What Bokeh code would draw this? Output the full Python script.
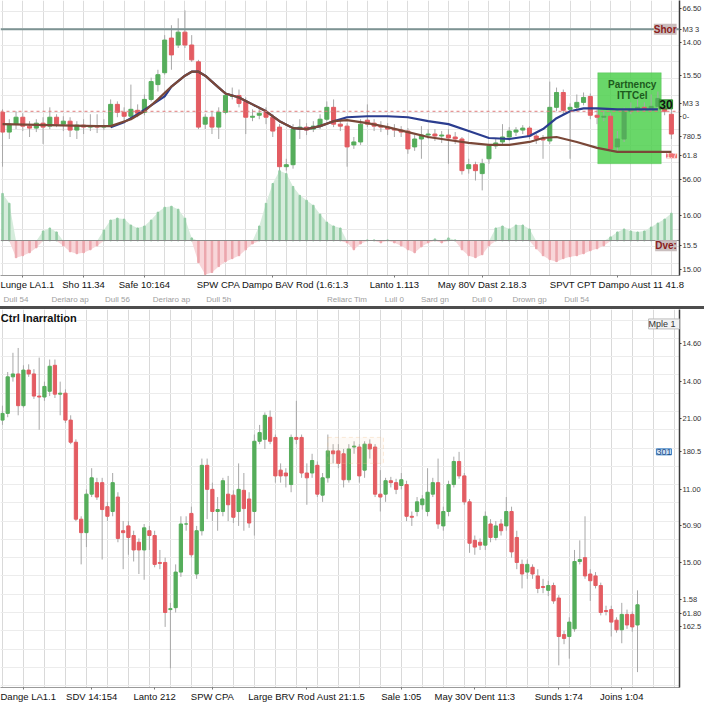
from bokeh.plotting import figure
from bokeh.models import (Range1d, LinearAxis, FixedTicker, SingleIntervalTicker, Label,
                          BoxAnnotation, ColumnDataSource, Div, Span)
from bokeh.layouts import column
from bokeh.embed import file_html
from bokeh.resources import INLINE

# ---------------- upper panel data ----------------
top_open = [187,167,175,182,173,171,176,173,182,175,
            178,169,174,172,173,172,173,195,187,183,
            189,187,200,215,227,262,255,268,255,238,
            175,182,172,187,203,204,198,182,184,187,
            182,172,132,134,170,172,170,173,180,192,
            175,173,154,157,179,176,173,172,170,169,
            168,152,160,164,165,163,164,162,160,130,
            134,125,140,153,157,162,167,169,171,163,
            160,158,192,207,190,192,197,203,184,182,
            183,152,160,188,190,192,191,193,192,185]
top_close = [167,175,182,173,171,176,172,182,175,178,
             169,174,172,173,172,173,195,187,183,190,
             186,200,218,225,260,245,268,255,240,172,
             182,172,187,204,204,196,182,183,186,182,
             168,132,134,170,172,169,173,180,192,175,
             173,152,157,175,175,173,172,170,169,167,
             150,160,164,165,163,164,161,160,128,134,
             128,135,153,156,162,168,169,171,163,160,
             159,192,207,189,192,197,202,184,182,183,
             150,160,188,190,192,191,193,201,188,165]
top_high = [190,180,188,186,178,180,182,192,185,183,
            182,178,180,185,185,180,200,198,192,215,
            195,205,222,230,265,275,282,290,265,240,
            185,188,192,208,212,210,202,190,192,192,
            185,175,140,175,180,176,178,185,198,200,
            180,176,162,180,195,180,178,176,175,173,
            171,164,173,170,170,168,170,167,162,140,
            137,140,155,160,175,172,172,174,173,165,
            164,218,212,210,196,205,207,206,190,188,
            186,168,192,197,200,197,205,208,196,190]
top_low = [132,160,170,168,162,167,155,170,172,168,
           162,160,165,168,166,169,172,182,178,180,
           182,184,198,208,225,230,252,252,238,170,
           170,165,160,185,200,192,165,178,180,175,
           162,128,128,130,160,164,167,170,178,172,
           168,132,150,154,172,168,167,164,162,162,
           145,148,140,160,158,156,135,155,124,125,
           118,108,135,150,154,158,163,165,160,155,
           140,155,188,185,140,188,194,180,175,178,
           147,148,157,185,187,188,188,190,184,160]
oscillator = [4.8,3.8,-1.7,-1.5,-1.2,-0.7,1.0,1.3,0.9,-0.5,
              -1.1,-1.3,-1.2,-0.9,-0.5,1.1,2.1,2.3,2.2,1.6,
              1.3,1.5,2.1,2.9,3.4,3.5,3.2,2.3,0.3,-2.2,
              -3.4,-3.2,-2.6,-2.1,-1.8,-1.5,-0.9,-0.3,1.5,3.8,
              5.8,7.1,6.8,5.5,4.6,4.1,3.6,2.7,1.9,1.5,
              1.3,-0.2,-0.9,-0.3,0.1,0.1,-0.2,0.1,-0.2,-0.5,
              -0.9,-1.2,-0.6,-0.2,0.2,-0.2,0.3,0.1,-0.9,-1.5,
              -1.7,-1.4,-0.5,1.3,1.5,1.2,1.6,1.6,1.2,-0.8,
              -1.5,-1.9,-2.1,-1.8,-1.6,-1.5,-1.3,-1.0,-0.8,-0.5,
              0.4,0.9,1.2,1.0,0.9,1.0,1.4,1.8,2.2,2.8]
ma_slow_idx = [0,7,14,16,19,21,23,25,27,28,29,30,32,33,35,37,39,41,43,45,
               47,49,51,54,57,60,63,66,69,72,75,78,80,82,85,88,91,95,99]
ma_slow = [175,174,173,173,180,188,200,213,224,228,228,224,212,206,202,195,188,178,171,170,
           173,178,179,176,172,167,162,159,156,154,154,157,161,162,157,151,147,147,147]
ma_fast_idx = [16,18,20,22,24,25,27,28,29,30,32,33,35,37,39,41,43,45,47,49,
               51,54,57,60,63,66,69,72,75,78,80,82,84,86,88,91,95,97]
ma_fast = [172,177,185,194,203,213,224,228,228,224,212,206,202,195,188,178,171,170,173,178,
           182,183,183,182,178,175,168,161,160,163,170,181,188,191,191,190,190,190]
resistance_level = 271
pivot_level = 188

top_tick_pos = [3, 12, 21, 40, 58, 71, 91]
top_tick_labels = ["Lunge LA1.1", "Sho 11.34", "Safe 10:164", "SPW CPA Dampo BAV Rod (1.6:1.3",
                   "Lanto 1.113", "May 80V Dast 2.18.3", "SPVT CPT Dampo Aust 11 41.8"]
top_sub_pos = [2, 10, 17, 25, 32, 51, 58, 64, 71, 78, 85]
top_sub_labels = ["Dull 54", "Deriaro ap", "Dull 56", "Deriaro ap", "Dull 5h", "Reliarc Tim",
                  "Lull 0", "Sard gn", "Dull 0", "Drown gp", "Dull 54"]
top_y_ticks = [292, 271, 258, 224, 196, 183, 163, 143, 119, 83, 52, 28]
top_y_labels = ["66.50", "M3 3", "14.00", "15.50", "M3 3", "0-", "780.5", "61.8",
                "56.00", "16.00", "15.5", "15.00"]

# ---------------- lower panel data ----------------
bot_open = [295,302,340,343,310,347,343,320,319,325,
            352,322,323,295,272,192,178,218,230,230,
            205,200,215,180,185,175,168,160,180,175,
            147,147,98,100,137,187,198,135,180,248,
            223,200,200,218,217,200,222,213,200,273,
            275,298,277,243,240,228,277,277,240,240,
            248,217,235,263,263,260,233,267,267,243,
            270,267,218,218,232,230,227,228,195,200,
            207,200,218,230,185,200,228,252,237,210,
            170,168,165,187,173,187,185,200,173,145,
            137,142,133,122,118,123,110,72,70,78,
            148,152,135,133,123,97,98,87,77,93,
            93,82]
bot_close = [302,340,343,310,347,343,320,319,330,351,
             322,323,295,272,192,178,218,235,215,202,
             195,230,172,178,173,160,160,183,175,145,
             146,95,99,137,187,187,155,180,248,223,
             200,202,232,207,194,223,203,188,273,282,
             300,273,237,237,237,277,275,240,235,253,
             218,235,263,260,250,233,265,268,237,270,
             265,218,215,232,230,223,233,195,194,210,
             213,220,230,187,200,228,252,237,210,167,
             163,165,195,173,185,180,200,158,147,135,
             145,135,120,121,123,107,70,68,85,148,
             150,133,128,123,95,96,85,77,93,82,
             80,103]
bot_high = [310,345,365,370,352,353,348,360,335,358,
            358,335,327,300,275,195,223,245,235,235,
            210,240,220,190,190,180,172,187,185,180,
            160,152,105,145,195,195,205,185,255,255,
            230,215,235,237,222,250,240,220,280,290,
            303,305,280,250,245,280,315,280,250,260,
            252,240,280,270,270,265,270,273,270,273,
            275,270,243,235,236,234,240,232,200,215,
            217,245,235,255,205,232,257,262,240,213,
            175,172,200,192,190,192,215,205,180,150,
            150,145,140,130,128,126,113,76,90,160,
            170,195,140,137,126,102,102,90,105,98,
            96,118]
bot_low = [290,298,335,300,308,340,317,285,315,320,
           318,300,292,270,190,145,163,215,212,150,
           190,195,168,140,155,148,135,129,160,142,
           140,80,37,95,132,180,152,130,175,192,
           190,180,195,190,188,185,180,183,175,270,
           265,270,230,230,225,220,270,235,207,235,
           215,210,230,250,245,225,230,260,230,235,
           255,215,200,210,225,218,223,190,185,195,
           202,195,215,182,180,195,225,234,207,157,
           155,160,160,168,170,175,180,152,140,120,
           130,130,115,115,112,104,40,62,47,75,
           145,130,107,120,92,92,70,74,63,78,
           75,33]
bot_tick_pos = [4, 17, 29, 40, 58, 76, 90, 106, 118]
bot_tick_labels = ["Dange LA1.1", "SDV 14:154", "Lanto 212", "SPW CPA",
                   "Large BRV Rod Aust 21:1.5", "Sale 1:05", "May 30V Dent 11:3",
                   "Sunds 1:74", "Joins 1:04"]
bot_y_ticks = [375, 335, 297, 262, 223, 185, 147, 108, 94, 80]
bot_y_labels = ["14.60", "14.00", "21.00", "180.5", "11.00", "50.90", "15.00", "1.58",
                "61.80", "162.5"]

GREEN = "#55ad5b"
RED = "#e35c62"
WICK = "#a8a8a8"
FONT = "Liberation Sans"
W = 704
RIGHT = 24


def draw_candles(p, o, c, h, l, width):
    idx = list(range(len(o)))
    cols = [GREEN if ci >= oi else RED for oi, ci in zip(o, c)]
    src = ColumnDataSource(dict(x=idx, o=o, c=c, h=h, l=l, col=cols))
    p.segment("x", "h", "x", "l", source=src, line_color=WICK, line_width=1)
    p.vbar(x="x", width=width, top="o", bottom="c", source=src,
           fill_color="col", line_color="col", line_width=1)


def tag(p, x, y, text, bg, fg="white", size="8px", bold=False, border=None, align="left"):
    lab = Label(x=x, y=y, text=text, text_font=FONT, text_font_size=size,
                text_color=fg, text_baseline="middle", text_align=align,
                background_fill_color=bg, border_line_color=border,
                text_font_style="bold" if bold else "normal")
    p.add_layout(lab)


def style_common(p):
    p.outline_line_color = None
    p.background_fill_color = "white"
    p.border_fill_color = "white"
    p.min_border_left = 0
    p.min_border_top = 0
    p.min_border_bottom = 0
    p.min_border_right = RIGHT


def style_xaxis(ax, size, color):
    ax.axis_line_color = "#9a9a9a"
    ax.major_tick_line_color = "#777777"
    ax.major_tick_in = 0
    ax.major_tick_out = 2
    ax.minor_tick_line_color = None
    ax.major_label_standoff = 1
    ax.major_label_text_font = FONT
    ax.major_label_text_font_size = size
    ax.major_label_text_color = color


def style_yaxis(ax):
    ax.axis_line_color = "#3a3a3a"
    ax.axis_line_width = 1.5
    ax.major_tick_line_color = "#3a3a3a"
    ax.major_tick_in = 0
    ax.major_tick_out = 2
    ax.minor_tick_line_color = None
    ax.major_label_standoff = 1
    ax.major_label_text_font = FONT
    ax.major_label_text_font_size = "7.5px"
    ax.major_label_text_color = "#333333"


# ---------------- upper figure ----------------
top = figure(width=W, height=306, x_range=Range1d(-0.3, 100.2), y_range=Range1d(22, 300),
             y_axis_location="right", output_backend="svg", toolbar_location=None)
style_common(top)
top.extra_y_ranges = {"osc": Range1d(-3.5, 24.3)}

top.xgrid.ticker = SingleIntervalTicker(interval=3)
top.ygrid.ticker = SingleIntervalTicker(interval=17)
top.xgrid.grid_line_color = "#dcdcdc"
top.ygrid.grid_line_color = "#e9e9e9"

xa = top.xaxis[0]
xa.ticker = FixedTicker(ticks=top_tick_pos, minor_ticks=[])
xa.major_label_overrides = dict(zip(top_tick_pos, top_tick_labels))
style_xaxis(xa, "9.5px", "#111111")

xa2 = LinearAxis(ticker=FixedTicker(ticks=top_sub_pos, minor_ticks=[]))
xa2.major_label_overrides = dict(zip(top_sub_pos, top_sub_labels))
style_xaxis(xa2, "8px", "#a0a0a0")
xa2.axis_line_color = None
xa2.major_tick_line_color = None
xa2.major_label_standoff = 0
top.add_layout(xa2, "below")

ya = top.yaxis[0]
ya.ticker = FixedTicker(ticks=top_y_ticks, minor_ticks=[])
ya.major_label_overrides = dict(zip(top_y_ticks, top_y_labels))
style_yaxis(ya)

# oscillator
top_idx = list(range(len(oscillator)))
osc_pos = [v if v > 0 else 0 for v in oscillator]
osc_neg = [v if v < 0 else 0 for v in oscillator]
osc_col = ["#93cba4" if v >= 0 else "#eca7ad" for v in oscillator]
top.varea(x=top_idx, y1=0, y2=osc_pos, fill_color="#d6ecdc", y_range_name="osc")
top.varea(x=top_idx, y1=osc_neg, y2=0, fill_color="#f8d6d9", y_range_name="osc")
top.vbar(x=top_idx, width=0.22, top=oscillator, bottom=0, fill_color=osc_col,
         line_color=osc_col, y_range_name="osc")
top.hspan(y=[0], line_color="#8a8a8a", line_width=1, y_range_name="osc")

# signal box
top.add_layout(BoxAnnotation(left=88.1, right=97.5, bottom=135, top=227,
                             fill_color="#4fd04f", fill_alpha=0.85,
                             line_color="#3cb43c", level="underlay"))

top.add_layout(Span(location=resistance_level, dimension="width", line_color="#7d9393",
                    line_width=2))
top.add_layout(Span(location=pivot_level, dimension="width", line_color="#e07b7b",
                    line_width=1, line_dash="3 3"))

draw_candles(top, top_open, top_close, top_high, top_low, 0.6)

top.line(ma_fast_idx, ma_fast, line_color="#2b3d8f", line_width=2.2, line_join="round")
top.line(ma_slow_idx, ma_slow, line_color="#7a4838", line_width=2.2, line_join="round")

tag(top, 93.2, 215, "Partnency", None, fg="#1d5a1d", size="10px", bold=True, align="center")
tag(top, 93.2, 204, "ITTCel", None, fg="#1d5a1d", size="10px", bold=True, align="center")
tag(top, 97.2, 195, "30", "#4cbd4c", fg="#111111", size="12px", bold=True, border="#2c8a2c")
tag(top, 96.4, 271, "Shor", "#cbbdbd", fg="#8b1c1c", size="10px", bold=True)
tag(top, 96.6, 52, "Dve:", "#c9bebe", fg="#8b1c1c", size="10px", bold=True)
tag(top, 98.2, 143, "1.7", "#f07272")

# ---------------- separator ----------------
sep = Div(text="", width=W, height=3, margin=(0, 0, 0, 0),
          styles={"background-color": "#4d4d4d"})

# ---------------- lower figure ----------------
bot = figure(width=W, height=395, x_range=Range1d(-0.37, 129), y_range=Range1d(17, 410),
             y_axis_location="right", output_backend="svg", toolbar_location=None)
style_common(bot)
bot.xgrid.ticker = SingleIntervalTicker(interval=4)
bot.ygrid.ticker = SingleIntervalTicker(interval=19)
bot.xgrid.grid_line_color = "#d9d9d9"
bot.ygrid.grid_line_color = "#ececec"

bx = bot.xaxis[0]
bx.ticker = FixedTicker(ticks=bot_tick_pos, minor_ticks=[])
bx.major_label_overrides = dict(zip(bot_tick_pos, bot_tick_labels))
style_xaxis(bx, "9.5px", "#111111")

by = bot.yaxis[0]
by.ticker = FixedTicker(ticks=bot_y_ticks, minor_ticks=[])
by.major_label_overrides = dict(zip(bot_y_ticks, bot_y_labels))
style_yaxis(by)

bot.add_layout(BoxAnnotation(left=62, right=72.6, bottom=250, top=277,
                             fill_color="#f8c48f", fill_alpha=0.08,
                             line_color="#f3c08c", line_dash="4 3"))

draw_candles(bot, bot_open, bot_close, bot_high, bot_low, 0.62)

tag(bot, -0.3, 401, "Ctrl Inarraltion", None, fg="#111111", size="11px", bold=True)
tag(bot, 123.1, 395, "Mple   1", "#f3f3f3", fg="#333333", size="9px", border="#bdbdbd")
tag(bot, 124.6, 262, "301", "#cfe2f5", fg="#1f4f8a", size="9px", border="#3b7fc4")

page = column(top, sep, bot, spacing=0)
open("out.html", "w").write(file_html(page, INLINE))
